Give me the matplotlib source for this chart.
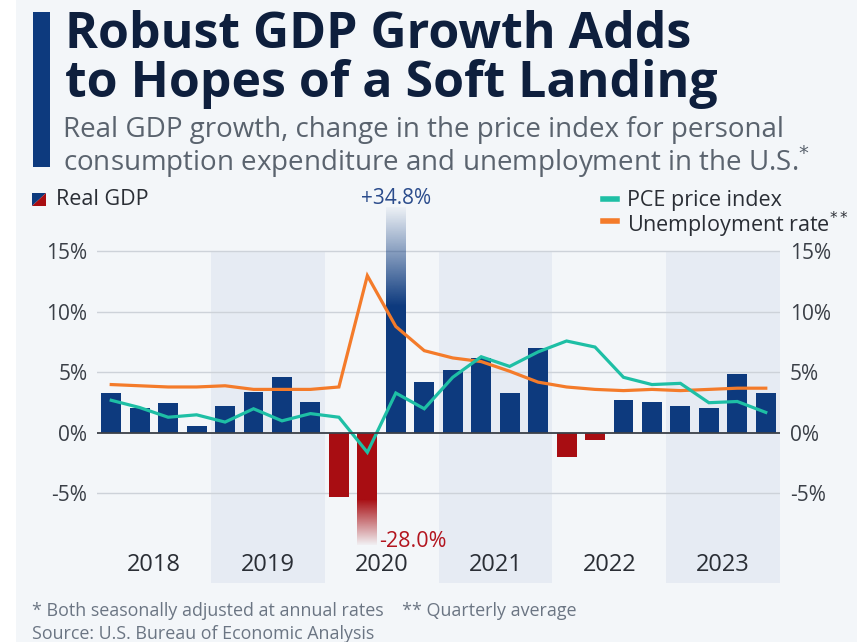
import numpy as np
import matplotlib
matplotlib.use('Agg')
import matplotlib.pyplot as plt
from matplotlib.patches import Rectangle, Polygon
from matplotlib.lines import Line2D

# data (quarterly, 2018 Q1 - 2023 Q4)
years = ['2018', '2019', '2020', '2021', '2022', '2023']
gdp = [3.3, 2.1, 2.5, 0.6,
       2.2, 3.4, 4.6, 2.6,
       -5.3, -28.0, 34.8, 4.2,
       5.2, 6.2, 3.3, 7.0,
       -2.0, -0.6, 2.7, 2.6,
       2.2, 2.1, 4.9, 3.3]
pce = [2.7, 2.1, 1.3, 1.5,
       0.9, 2.0, 1.0, 1.6,
       1.3, -1.6, 3.3, 2.0,
       4.6, 6.3, 5.5, 6.7,
       7.6, 7.1, 4.6, 4.0,
       4.1, 2.5, 2.6, 1.7]
unemp = [4.0, 3.9, 3.8, 3.8,
         3.9, 3.6, 3.6, 3.6,
         3.8, 13.0, 8.8, 6.8,
         6.2, 5.9, 5.1, 4.2,
         3.8, 3.6, 3.5, 3.6,
         3.5, 3.6, 3.7, 3.7]
yticks = [-5, 0, 5, 10, 15]

BG = '#f3f6f9'
NAVY = '#0d3a7e'
RED = '#a80d12'
TEAL = '#1ebfa5'
ORANGE = '#f47b2a'
TITLE = '#0e1f3d'
GREY = '#5a636e'

plt.rcParams['font.family'] = ['Open Sans', 'DejaVu Sans']

fig = plt.figure(figsize=(8.57, 6.42), dpi=100, facecolor=BG)
fig.patches.append(Rectangle((0, 0), 16 / 857, 1, transform=fig.transFigure,
                             facecolor='white', edgecolor='none', zorder=0))

# header
fig.patches.append(Rectangle((33 / 857, 1 - 167 / 642), 17 / 857, 155 / 642,
                             transform=fig.transFigure, facecolor=NAVY,
                             edgecolor='none'))
fig.text(65 / 857, 1 - 97 / 642,
         'Robust GDP Growth Adds\nto Hopes of a Soft Landing', fontsize=36,
         fontweight='bold', color=TITLE, va='baseline', linespacing=0.98)
fig.text(63 / 857, 1 - 171 / 642,
         'Real GDP growth, change in the price index for personal\n'
         'consumption expenditure and unemployment in the U.S.$^{*}$',
         fontsize=20, color=GREY, va='baseline', linespacing=0.98)

# axes
y_bot, y_top = -12.4, 19.5
ax = fig.add_axes([97 / 857, (642 - 583) / 642, 683 / 857, 31.9 * 12.1 / 642])
ax.set_facecolor('none')
for s in ax.spines.values():
    s.set_visible(False)

x = np.arange(len(gdp))
w = 0.7

# shaded years
for i in (1, 3, 5):
    ax.add_patch(Rectangle((i * 4 - 0.5, y_bot), 4, 15 - y_bot,
                           facecolor='#e6ebf3', edgecolor='none', zorder=0))

for t in yticks:
    ax.axhline(t, color='#3b4048' if t == 0 else '#cdd2d9',
               lw=1.3 if t == 0 else 1.0, zorder=1 if t else 4)

# bars, outliers fade out
fade_hi, clip_hi = 10.5, 18.6
fade_lo, clip_lo = -5.5, -9.3
for xi, v in zip(x, gdp):
    col = NAVY if v >= 0 else RED
    if v > clip_hi or v < clip_lo:
        a, b = (fade_hi, clip_hi) if v > 0 else (fade_lo, clip_lo)
        ax.bar(xi, a, w, color=col, zorder=2)
        rgb = np.array(matplotlib.colors.to_rgb(col))
        n = 100
        grad = np.ones((n, 1, 4))
        grad[:, 0, :3] = rgb
        alpha = np.linspace(1, 0.03, n)
        grad[:, 0, 3] = alpha if v > 0 else alpha[::-1]
        ax.imshow(grad, extent=[xi - w / 2, xi + w / 2, min(a, b), max(a, b)],
                  origin='lower', aspect='auto', zorder=2,
                  interpolation='bilinear')
    else:
        ax.bar(xi, v, w, color=col, zorder=2)
ax.set_xlim(-0.5, 23.5)
ax.set_ylim(y_bot, y_top)

ax.plot(x, unemp, color=ORANGE, lw=2.3, zorder=3, solid_joinstyle='miter')
ax.plot(x, pce, color=TEAL, lw=2.3, zorder=3, solid_joinstyle='miter')

i_max = int(np.argmax(gdp))
i_min = int(np.argmin(gdp))
ax.text(x[i_max], 19.4, f'+{gdp[i_max]:.1f}%', ha='center', va='center',
        fontsize=15, color='#2b4c8c', clip_on=False)
ax.text(x[i_min] + 0.42, -9.0, f'{gdp[i_min]:.1f}%', ha='left', va='center',
        fontsize=15.5, color='#b3151f')

for k, yr in enumerate(years):
    ax.text(k * 4 + 1.5, -10.9, yr, ha='center', va='center', fontsize=17,
            color='#2a2e35')

ax.set_xticks([])
ax.set_yticks(yticks)
ax.set_yticklabels([f'{t}%' for t in yticks])
ax.tick_params(axis='y', length=0, pad=7, labelsize=15, labelcolor='#3a3f47',
               labelleft=True, labelright=True)

# legends
fig.patches.append(Polygon([(32 / 857, 1 - 193 / 642), (46 / 857, 1 - 193 / 642),
                            (32 / 857, 1 - 206 / 642)], closed=True,
                           transform=fig.transFigure, facecolor=NAVY,
                           edgecolor='none'))
fig.patches.append(Polygon([(46 / 857, 1 - 193 / 642), (46 / 857, 1 - 206 / 642),
                            (32 / 857, 1 - 206 / 642)], closed=True,
                           transform=fig.transFigure, facecolor=RED,
                           edgecolor='none'))
fig.text(56 / 857, 1 - 205 / 642, 'Real GDP', fontsize=15.5, color='#2a2e35',
         va='baseline')
for yy, c in [(199, TEAL), (221, ORANGE)]:
    fig.lines.append(Line2D([603 / 857, 617 / 857], [1 - yy / 642] * 2,
                            transform=fig.transFigure, color=c, lw=4))
fig.text(627 / 857, 1 - 232 / 642,
         'PCE price index\nUnemployment rate$^{**}$', fontsize=15.5,
         color='#2a2e35', va='baseline', linespacing=0.92)

fig.text(32 / 857, 1 - 611 / 642,
         '* Both seasonally adjusted at annual rates    ** Quarterly average',
         fontsize=12.9, color='#6b7583', va='center')
fig.text(32 / 857, 1 - 634 / 642, 'Source: U.S. Bureau of Economic Analysis',
         fontsize=12.9, color='#6b7583', va='center')

fig.savefig('out.png', dpi=100, facecolor=BG)
